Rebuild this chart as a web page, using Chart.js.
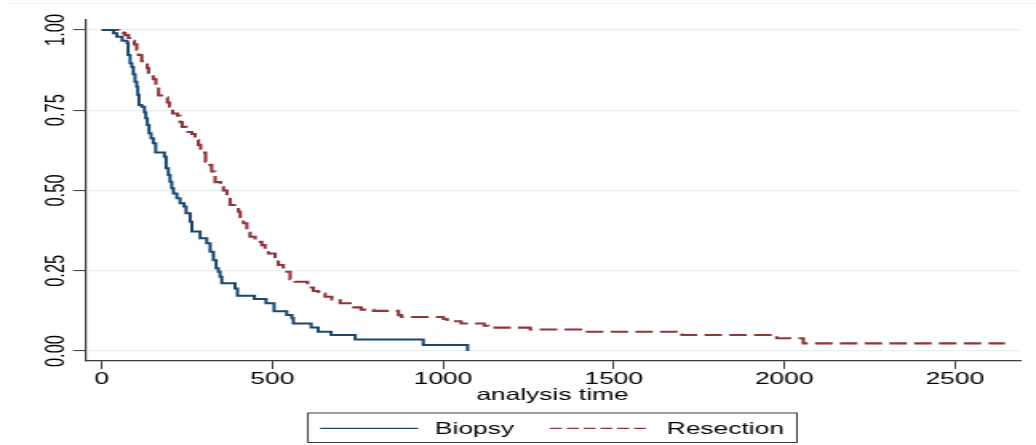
<!DOCTYPE html>
<html>
<head>
<meta charset="utf-8">
<title>Kaplan-Meier survival estimates</title>
<script src="https://cdn.jsdelivr.net/npm/chart.js"></script>
<style>
  html, body { margin: 0; padding: 0; background: #ffffff; }
  /* drawn 648px wide, shown stretched to 1036px */
  #kmChart { display: block; width: 1036px !important; height: 445px !important; }
</style>
</head>
<body>
<canvas id="kmChart" width="648" height="445" style="width:1036px;height:445px"></canvas>
<script>
// Kaplan-Meier survival by surgery group, time in days
const biopsyTimes = [0, 34, 44, 59.5, 74, 77, 83, 88, 92.5, 97.5, 102.5, 105.5, 109, 117, 125, 129, 133.5, 138.5,
  144.5, 151, 158, 183.5, 188.5, 195, 200, 205, 210, 220, 229.5, 241, 247, 259, 264, 288, 307.5, 317.5, 327, 335,
  341.5, 346.5, 351.5, 390.5, 397.5, 447, 481.5, 505, 542, 557, 561.5, 613.5, 634, 672, 742.5, 942, 1072];
const biopsySurvival = [1, 0.990, 0.979, 0.966, 0.959, 0.922, 0.896, 0.885, 0.862, 0.839, 0.823, 0.798, 0.766, 0.761,
  0.744, 0.725, 0.704, 0.678, 0.663, 0.647, 0.618, 0.605, 0.569, 0.548, 0.527, 0.507, 0.491, 0.476, 0.460, 0.450,
  0.429, 0.403, 0.372, 0.351, 0.336, 0.309, 0.283, 0.258, 0.247, 0.231, 0.211, 0.195, 0.172, 0.162, 0.149, 0.124,
  0.112, 0.102, 0.086, 0.073, 0.060, 0.050, 0.036, 0.019, 0];

const resectionTimes = [0, 50, 63, 68, 78, 89.5, 95.5, 102.5, 107.5, 117, 128, 133.5, 137, 151, 158.5, 166.5, 182.5,
  192.5, 198.5, 207.5, 222, 229.5, 235.5, 247, 264, 273.5, 283, 289.5, 304, 317.5, 322, 332, 348, 356.5, 366.5, 376,
  400.5, 405.5, 415, 425, 434.5, 449.5, 469, 478.5, 488.5, 508, 517.5, 532, 552, 566.5, 603, 620, 635, 654.5, 674,
  698.5, 727.5, 760, 796, 869.5, 878.5, 1001, 1012, 1053, 1120.5, 1132, 1255.5, 1416.5, 1700, 1978, 2056, 2647];
const resectionSurvival = [1, 0.993, 0.990, 0.984, 0.975, 0.966, 0.955, 0.938, 0.922, 0.903, 0.896, 0.881, 0.860,
  0.847, 0.822, 0.796, 0.790, 0.774, 0.761, 0.740, 0.733, 0.713, 0.698, 0.682, 0.676, 0.657, 0.642, 0.618, 0.590,
  0.579, 0.559, 0.526, 0.520, 0.500, 0.478, 0.455, 0.434, 0.418, 0.398, 0.377, 0.356, 0.340, 0.330, 0.316, 0.304,
  0.289, 0.268, 0.247, 0.224, 0.216, 0.198, 0.187, 0.179, 0.169, 0.161, 0.149, 0.136, 0.129, 0.125, 0.112, 0.106,
  0.100, 0.093, 0.086, 0.079, 0.073, 0.067, 0.060, 0.050, 0.040, 0.024, 0.024];

const xTickValues = [0, 500, 1000, 1500, 2000, 2500];
const xTickLabels = ['0', '500', '1000', '1500', '2000', '2500'];
const yTickValues = [0, 0.25, 0.5, 0.75, 1];
const yTickLabels = ['0.00', '0.25', '0.50', '0.75', '1.00'];
const seriesNames = ['Biopsy', 'Resection'];
const xAxisTitle = 'analysis time';

const colors = {
  biopsy: '#1a476f',
  resection: '#90353b',
  grid: '#e6eff1',
  axis: '#3a3a3a',
  text: '#000000'
};
const fontFamily = '"Liberation Sans", Arial, sans-serif';

function toPoints(times, values) {
  return times.map((t, i) => ({ x: t, y: values[i] }));
}

// Rotated y labels, axis title and the boxed legend under the plot
const stataDecor = {
  id: 'stataDecor',
  afterDraw(chart) {
    const ctx = chart.ctx;
    const area = chart.chartArea;
    const yScale = chart.scales.y;
    ctx.save();

    // faint outer region edge along the top
    ctx.strokeStyle = '#eef2f4';
    ctx.lineWidth = 1;
    ctx.beginPath();
    ctx.moveTo(5, 3.5);
    ctx.lineTo(chart.width, 3.5);
    ctx.stroke();

    ctx.fillStyle = colors.text;
    ctx.font = `16.5px ${fontFamily}`;
    yTickValues.forEach((v, i) => {
      ctx.save();
      ctx.translate(39.8, yScale.getPixelForValue(v));
      ctx.rotate(-Math.PI / 2);
      ctx.textAlign = 'center';
      ctx.textBaseline = 'alphabetic';
      ctx.fillText(yTickLabels[i], 0, 0);
      ctx.restore();
    });

    ctx.font = `16.5px ${fontFamily}`;
    ctx.textAlign = 'center';
    ctx.textBaseline = 'alphabetic';
    ctx.fillText(xAxisTitle, (area.left + area.right) / 2, 400);

    // legend box
    ctx.strokeStyle = colors.axis;
    ctx.lineWidth = 1;
    ctx.strokeRect(192.6, 413, 305.9, 29.5);

    ctx.lineWidth = 1.3;
    ctx.strokeStyle = colors.biopsy;
    ctx.beginPath();
    ctx.moveTo(200.2, 428.3);
    ctx.lineTo(261.5, 428.3);
    ctx.stroke();

    ctx.strokeStyle = colors.resection;
    ctx.setLineDash([7.5, 3]);
    ctx.beginPath();
    ctx.moveTo(344, 428.3);
    ctx.lineTo(406.5, 428.3);
    ctx.stroke();
    ctx.setLineDash([]);

    ctx.textAlign = 'left';
    ctx.fillText(seriesNames[0], 272, 434.3);
    ctx.fillText(seriesNames[1], 417, 434.3);
    ctx.restore();
  }
};

Chart.defaults.font.family = fontFamily;

new Chart(document.getElementById('kmChart'), {
  type: 'line',
  data: {
    datasets: [
      {
        label: seriesNames[0],
        data: toPoints(biopsyTimes, biopsySurvival),
        borderColor: colors.biopsy,
        borderWidth: 2,
        stepped: true,
        pointRadius: 0,
        fill: false
      },
      {
        label: seriesNames[1],
        data: toPoints(resectionTimes, resectionSurvival),
        borderColor: colors.resection,
        borderWidth: 2.1,
        borderDash: [11, 4.5],
        stepped: true,
        pointRadius: 0,
        fill: false
      }
    ]
  },
  options: {
    responsive: false,
    animation: false,
    devicePixelRatio: 1,
    layout: { padding: { top: 20, right: 10, left: 0, bottom: 0 } },
    plugins: {
      legend: { display: false },
      tooltip: { enabled: false }
    },
    scales: {
      x: {
        type: 'linear',
        min: -49,
        max: 2691,
        afterBuildTicks: (scale) => { scale.ticks = xTickValues.map(v => ({ value: v })); },
        afterFit: (scale) => { scale.height = 84; },
        ticks: {
          autoSkip: false,
          maxRotation: 0,
          minRotation: 0,
          padding: 1,
          color: colors.text,
          font: { size: 16.5 },
          callback: (value, index) => xTickLabels[index]
        },
        grid: { drawOnChartArea: false, tickLength: 8, tickColor: colors.axis, tickWidth: 1 },
        border: { color: colors.axis, width: 1.2 }
      },
      y: {
        type: 'linear',
        min: -0.031,
        max: 1.031,
        afterBuildTicks: (scale) => { scale.ticks = yTickValues.map(v => ({ value: v })); },
        afterFit: (scale) => { scale.width = 53.2; },
        ticks: { display: false },
        grid: { color: colors.grid, lineWidth: 1.2, tickLength: 7.5, tickColor: colors.axis, tickWidth: 1 },
        border: { color: colors.axis, width: 1.2 }
      }
    }
  },
  plugins: [stataDecor]
});
</script>
</body>
</html>
